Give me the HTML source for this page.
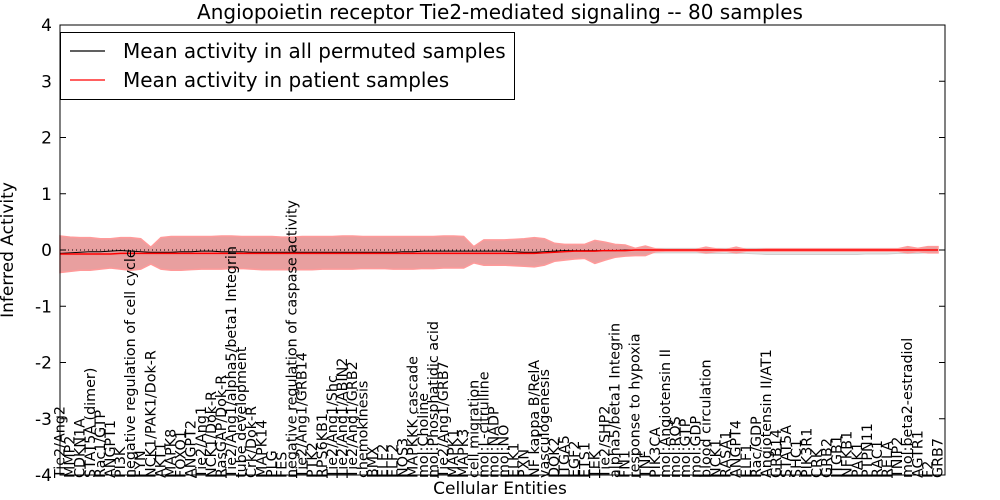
<!DOCTYPE html>
<html><head><meta charset="utf-8"><style>
html,body{margin:0;padding:0;background:#fff;}
svg{display:block;font-family:"DejaVu Sans","Liberation Sans",sans-serif;}
</style></head><body>
<svg id="chart" width="1000" height="500" viewBox="0 0 1000 500" xmlns="http://www.w3.org/2000/svg">
<rect x="0" y="0" width="1000" height="500" fill="#fff"/>
<g id="bands"></g>
<g id="lines"></g>
<g id="xlabels" font-size="14.3"></g>
<g id="yticks" font-size="17"></g>
<rect x="60" y="25" width="885" height="450" fill="none" stroke="#000" stroke-width="1"/>
<text x="500" y="19" text-anchor="middle" font-size="20">Angiopoietin receptor Tie2-mediated signaling -- 80 samples</text>
<text x="500" y="494" text-anchor="middle" font-size="17">Cellular Entities</text>
<text transform="translate(13,250) rotate(-90)" text-anchor="middle" font-size="17">Inferred Activity</text>
<g>
<rect x="60.5" y="32.5" width="454" height="67" fill="#fff" stroke="#000"/>
<line x1="70" y1="51" x2="105" y2="51" stroke="#000" stroke-width="1.2"/>
<text x="123" y="58" font-size="20">Mean activity in all permuted samples</text>
<line x1="70" y1="80" x2="105" y2="80" stroke="#f00" stroke-width="1.2"/>
<text x="123" y="87" font-size="20">Mean activity in patient samples</text>
</g>
</svg>
<script>
const labels=["Tie2/Ang2","MMP2","CDKN1A","STAT5A (dimer)","Rac1/GTP","ANGPT1","PI3K","negative regulation of cell cycle","FYN","NCK1/PAK1/Dok-R","AKT1","MAPK8","FOXO1","ANGPT2","Tie2/Ang1","NCK1/Dok-R","RasGAP/Dok-R","Tie2/Ang1/alpha5/beta1 Integrin","tube development","Crk/Dok-R","MAPK14","PLG","FES","negative regulation of caspase activity","Tie2/Ang1/GRB14","PTK2","RPS6KB1","Tie2/Ang1/Shc","Tie2/Ang1/ABIN2","Tie2/Ang1/GRB2","chemokinesis","BMX","ELF2","ELF2","NOS3","MAPKKK cascade","mol:Choline","mol:Phosphatidic acid","Tie2/Ang1/GRB7","MAPK1","MAPK3","cell migration","mol:L-citrulline","mol:NADP","mol:NO","ELK1","PXN","NF kappa B/RelA","vasculogenesis","DOK2","ITGA5","EGF2","ETS1","TEK","Tie2/SHP2","alpha5/beta1 Integrin","FN1","response to hypoxia","TNF","PIK3CA","mol:Angiotensin II","mol:ROS","mol:GTP","mol:GDP","blood circulation","NCK1","RASA1","ANGPT4","ELF1","Rac/GDP","Angiotensin II/AT1","GRB14","STAT5A","SHC1","PIK3R1","CRK","GRB2","ITGB1","NFKB1","PAK1","PTPN11","RAC1","RELA","TNIP2","mol:beta2-estradiol","AGTR1","F2","GRB7"];
const patientUpper=[0.25,0.23,0.22,0.22,0.2,0.2,0.22,0.22,0.2,0.05,0.22,0.24,0.24,0.24,0.24,0.24,0.25,0.25,0.24,0.24,0.24,0.24,0.23,0.23,0.24,0.24,0.24,0.24,0.25,0.25,0.24,0.24,0.24,0.24,0.24,0.24,0.24,0.24,0.25,0.25,0.24,0.06,0.18,0.18,0.18,0.19,0.2,0.22,0.2,0.12,0.1,0.1,0.1,0.17,0.14,0.1,0.09,0.03,0.07,0.02,0.01,0.01,0.01,0.01,0.05,0.02,0.01,0.05,0.01,0.01,0.02,0.02,0.02,0.02,0.02,0.02,0.02,0.02,0.02,0.02,0.02,0.02,0.02,0.02,0.06,0.03,0.06,0.06];
const patientLower=[-0.4,-0.38,-0.36,-0.36,-0.34,-0.32,-0.34,-0.36,-0.34,-0.25,-0.34,-0.36,-0.36,-0.35,-0.34,-0.34,-0.34,-0.33,-0.33,-0.34,-0.35,-0.35,-0.35,-0.35,-0.35,-0.35,-0.34,-0.34,-0.34,-0.34,-0.33,-0.33,-0.33,-0.34,-0.34,-0.34,-0.33,-0.33,-0.32,-0.32,-0.32,-0.23,-0.27,-0.27,-0.27,-0.28,-0.29,-0.3,-0.27,-0.2,-0.18,-0.16,-0.15,-0.24,-0.18,-0.13,-0.11,-0.1,-0.1,-0.03,-0.02,-0.02,-0.02,-0.02,-0.05,-0.03,-0.02,-0.05,-0.02,-0.02,-0.02,-0.02,-0.02,-0.02,-0.02,-0.02,-0.02,-0.02,-0.02,-0.02,-0.02,-0.02,-0.02,-0.02,-0.05,-0.03,-0.05,-0.05];
const permUpper=[0.02,0.02,0.02,0.02,0.02,0.02,0.02,0.02,0.02,0.02,0.02,0.02,0.02,0.02,0.02,0.02,0.02,0.02,0.02,0.02,0.02,0.02,0.02,0.02,0.02,0.02,0.02,0.02,0.02,0.02,0.02,0.02,0.02,0.02,0.02,0.02,0.02,0.02,0.02,0.02,0.02,0.02,0.02,0.02,0.02,0.02,0.02,0.02,0.02,0.02,0.02,0.02,0.02,0.02,0.02,0.02,0.02,0.02,0.02,0.03,0.03,0.03,0.03,0.03,0.03,0.03,0.03,0.03,0.03,0.03,0.03,0.03,0.03,0.03,0.03,0.03,0.03,0.03,0.03,0.03,0.03,0.03,0.03,0.03,0.03,0.03,0.03,0.03];
const permLower=[-0.1,-0.1,-0.1,-0.1,-0.1,-0.1,-0.1,-0.1,-0.1,-0.1,-0.1,-0.1,-0.1,-0.1,-0.1,-0.1,-0.1,-0.1,-0.1,-0.1,-0.1,-0.1,-0.1,-0.1,-0.1,-0.1,-0.1,-0.1,-0.1,-0.1,-0.1,-0.1,-0.1,-0.1,-0.1,-0.1,-0.1,-0.1,-0.1,-0.1,-0.1,-0.1,-0.1,-0.1,-0.1,-0.1,-0.1,-0.2,-0.22,-0.2,-0.12,-0.1,-0.08,-0.06,-0.05,-0.05,-0.05,-0.05,-0.05,-0.05,-0.05,-0.05,-0.05,-0.05,-0.06,-0.06,-0.06,-0.06,-0.06,-0.07,-0.08,-0.08,-0.08,-0.08,-0.08,-0.08,-0.08,-0.08,-0.08,-0.08,-0.07,-0.07,-0.07,-0.06,-0.06,-0.06,-0.05,-0.05];
const patientMean=[-0.07,-0.07,-0.07,-0.07,-0.07,-0.07,-0.06,-0.06,-0.06,-0.06,-0.06,-0.06,-0.06,-0.06,-0.06,-0.06,-0.06,-0.06,-0.06,-0.06,-0.06,-0.06,-0.06,-0.06,-0.06,-0.06,-0.06,-0.06,-0.06,-0.06,-0.06,-0.06,-0.06,-0.06,-0.06,-0.06,-0.06,-0.06,-0.06,-0.06,-0.06,-0.06,-0.06,-0.06,-0.06,-0.06,-0.06,-0.06,-0.05,-0.04,-0.03,-0.02,-0.02,-0.02,-0.01,-0.01,-0.01,0,0,0,0,0,0,0,0,0,0,0,0,0,0,0,0,0,0,0,0,0,0,0,0,0,0,0,0,0,0,0];
const permMean=[-0.06,-0.05,-0.04,-0.03,-0.03,-0.02,-0.01,-0.02,-0.03,-0.04,-0.04,-0.04,-0.03,-0.03,-0.02,-0.02,-0.03,-0.03,-0.03,-0.04,-0.04,-0.04,-0.04,-0.04,-0.04,-0.04,-0.04,-0.04,-0.04,-0.04,-0.04,-0.04,-0.04,-0.04,-0.03,-0.03,-0.02,-0.02,-0.02,-0.02,-0.02,-0.02,-0.02,-0.02,-0.02,-0.03,-0.04,-0.04,-0.03,-0.02,-0.01,-0.01,-0.01,-0.01,-0.01,-0.01,0,0,0,0,0,0,0,0,0,0,0,0,0,0,0,0,0,0,0,0,0,0,0,0,0,0,0,0,0,0,0,0];
const yTicks=[-4,-3,-2,-1,0,1,2,3,4];
const NS="http://www.w3.org/2000/svg";
const X0=60,X1=938,Y0=25,Y1=475;
function xs(i){return X0+i*(X1-X0)/(labels.length-1);}
function ys(v){return Y1-(v-(-4))/8*(Y1-Y0);}
function mk(tag,attrs,parent){const e=document.createElementNS(NS,tag);for(const k in attrs)e.setAttribute(k,attrs[k]);parent.appendChild(e);return e;}
function bandPath(up,lo){let d="";for(let i=0;i<up.length;i++)d+=(i?"L":"M")+xs(i)+","+ys(up[i]);for(let i=lo.length-1;i>=0;i--)d+="L"+xs(i)+","+ys(lo[i]);return d+"Z";}
function linePath(a){let d="";for(let i=0;i<a.length;i++)d+=(i?"L":"M")+xs(i)+","+ys(a[i]);return d;}
const bands=document.getElementById('bands');
const pb=mk('path',{d:bandPath(permUpper,permLower),fill:'#e2e2e2',stroke:'#d0d0d0','stroke-width':1},bands);


const rb=mk('path',{d:bandPath(patientUpper,patientLower),fill:'#e79a9a',stroke:'#ff9a9a','stroke-width':1.5,'fill-opacity':0.95},bands);


const lines=document.getElementById('lines');
const zl=mk('line',{x1:X0,x2:945,y1:ys(0),y2:ys(0),stroke:'#000','stroke-dasharray':'1,3','stroke-width':1},lines);


const bl=mk('path',{d:linePath(permMean),fill:'none',stroke:'#000','stroke-width':1},lines);


const rl=mk('path',{d:linePath(patientMean),fill:'none',stroke:'#f00','stroke-width':1.5},lines);


const yt=document.getElementById('yticks');
yTicks.forEach(v=>{
  const y=ys(v);
  const t=mk('text',{x:52,y:y+6,'text-anchor':'end'},yt);t.textContent=v;
  
  
  const a=mk('line',{x1:60,x2:66,y1:y,y2:y,stroke:'#000'},yt);
  
  
  const b=mk('line',{x1:939,x2:945,y1:y,y2:y,stroke:'#000'},yt);
  
  
});
const xl=document.getElementById('xlabels');
labels.forEach((s,i)=>{
  const x=xs(i)+4.5;
  const t=mk('text',{transform:'translate('+x+',478) rotate(-90)'},xl);t.textContent=s;
  
  
});
</script>
</body></html>
